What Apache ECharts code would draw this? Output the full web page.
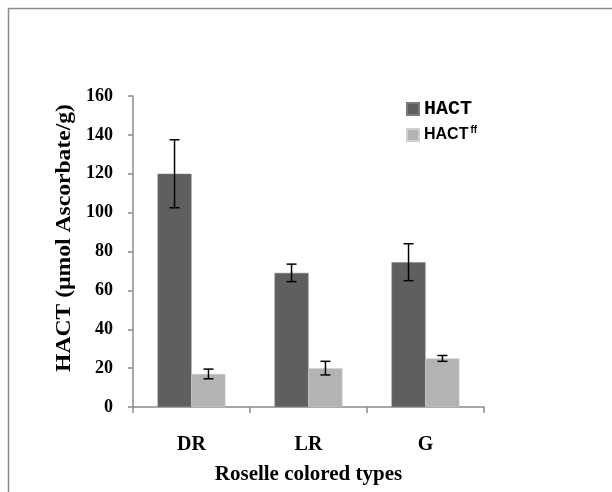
<!DOCTYPE html>
<html><head><meta charset="utf-8">
<script src="https://cdn.jsdelivr.net/npm/echarts@6/dist/echarts.min.js"></script>
<style>html,body{margin:0;padding:0;background:#fff}#c{width:612px;height:492px}</style>
</head><body><div id="c"></div>
<script>
var categories = ['DR', 'LR', 'G'];
var hact = [120, 69, 74.5];
var hactErr = [17.5, 4.5, 9.5];
var hactff = [17, 20, 25];
var hactffErr = [2.5, 3.5, 1.5];
var yTicks = [0, 20, 40, 60, 80, 100, 120, 140, 160];
var yTitle = 'HACT (µmol Ascorbate/g)';
var xTitle = 'Roselle colored types';

var GAP = 0.42;
function errSeries(vals, errs, side, name) {
  return {
    type: 'custom', name: name + '_err', silent: true, z: 10,
    data: vals.map(function (v, i) { return [i, v, errs[i]]; }),
    renderItem: function (params, api) {
      var i = api.value(0), v = api.value(1), e = api.value(2);
      var band = api.size([1, 0])[0];
      var bw = band * (1 - GAP) / 2;
      var x = api.coord([i, v])[0] + side * bw / 2;
      var yt = api.coord([i, v + e])[1], yb = api.coord([i, v - e])[1];
      var c = 5;
      var st = { stroke: '#000', lineWidth: 1.5 };
      return { type: 'group', children: [
        { type: 'line', shape: { x1: x, y1: yt, x2: x, y2: yb }, style: st },
        { type: 'line', shape: { x1: x - c, y1: yt, x2: x + c, y2: yt }, style: st },
        { type: 'line', shape: { x1: x - c, y1: yb, x2: x + c, y2: yb }, style: st }
      ]};
    }
  };
}

var chart = echarts.init(document.getElementById('c'));
chart.setOption({
  animation: false,
  backgroundColor: '#fff',
  graphic: [
    { type: 'rect', shape: { x: 8.5, y: 8.5, width: 700, height: 600 },
      style: { fill: 'none', stroke: '#8a8a8a', lineWidth: 1.5 } },
    { type: 'text', x: 65, y: 238, rotation: Math.PI / 2, scaleX: 1.18,
      style: { text: yTitle, font: 'bold 20px "Liberation Serif"', fill: '#000', align: 'center', verticalAlign: 'middle' } }
  ],
  grid: { left: 133, right: 128, top: 96, bottom: 85, outerBoundsMode: 'none', containLabel: false },
  legend: {
    orient: 'vertical', left: 401, top: 94, itemWidth: 12, itemHeight: 12, itemGap: 6,
    icon: 'rect',
    data: [
      { name: 'HACT', textStyle: { fontFamily: '"Liberation Mono", "Courier New", monospace', fontWeight: 'bold', fontSize: 20, lineHeight: 20, color: '#000' } },
      { name: 'HACTff', textStyle: { fontFamily: '"Liberation Sans"', fontWeight: 'bold', fontSize: 16, lineHeight: 20, color: '#000',
        rich: { s: { fontFamily: '"Liberation Sans"', fontWeight: 'bold', fontSize: 10, lineHeight: 20, color: '#000', verticalAlign: 'top', padding: [0, 0, 10, 2] } } } }
    ],
    formatter: function (n) { return n === 'HACT' ? 'HACT' : 'HACT{s|ff}'; }
  },
  xAxis: {
    type: 'category', data: categories,
    name: xTitle, nameLocation: 'middle', nameGap: 57,
    nameTextStyle: { fontFamily: 'Liberation Serif', fontWeight: 'bold', fontSize: 21, color: '#000' },
    axisLine: { lineStyle: { color: '#8a8a8a', width: 1.5 } },
    axisTick: { show: true, length: 6, lineStyle: { color: '#8a8a8a', width: 1.5 } },
    axisLabel: { margin: 28, fontFamily: 'Liberation Serif', fontWeight: 'bold', fontSize: 20, color: '#000' }
  },
  yAxis: {
    type: 'value', min: 0, max: 160, interval: 20,
    axisLine: { show: true, lineStyle: { color: '#8a8a8a', width: 1.5 } },
    axisTick: { show: true, length: 5, lineStyle: { color: '#8a8a8a', width: 1.5 } },
    splitLine: { show: false },
    axisLabel: { margin: 20, fontFamily: 'Liberation Serif', fontWeight: 'bold', fontSize: 18, color: '#000',
      formatter: function (v) { return yTicks.indexOf(v) >= 0 ? String(v) : ''; } }
  },
  series: [
    { name: 'HACT', type: 'bar', data: hact, barGap: '0%', barCategoryGap: (GAP * 100) + '%',
      itemStyle: { color: '#5f5f5f', borderColor: '#7a7a7a', borderWidth: 0.5 } },
    { name: 'HACTff', type: 'bar', data: hactff,
      itemStyle: { color: '#b3b3b3', borderColor: '#cfcfcf', borderWidth: 0.5 } },
    errSeries(hact, hactErr, -1, 'HACT'),
    errSeries(hactff, hactffErr, 1, 'HACTff')
  ]
});
</script></body></html>
